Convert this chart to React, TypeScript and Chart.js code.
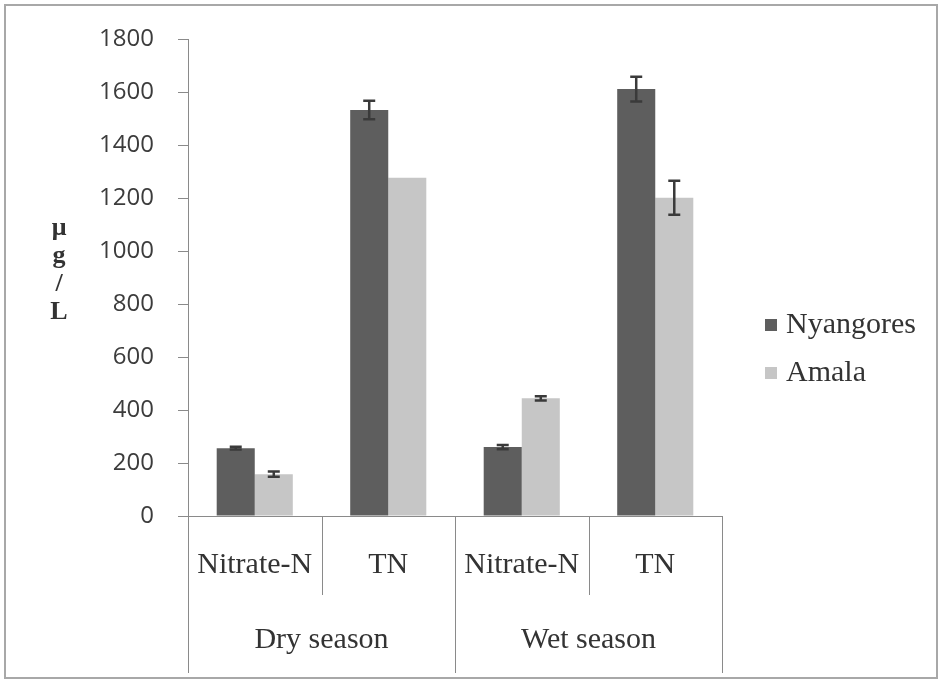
import React, { useEffect, useRef } from "react";
import { Chart, registerables } from "chart.js";

Chart.register(...registerables);

const seasons = ["Dry season", "Wet season"];
const parameters = ["Nitrate-N", "TN", "Nitrate-N", "TN"];
const seriesNames = ["Nyangores", "Amala"];
const nyangores = [256, 1532, 260, 1611];
const nyangoresErr = [5, 35, 8, 47];
const amala = [158, 1276, 444, 1201];
const amalaErr = [10, 0, 8, 64];
const yTitleChars = ["μ", "g", "/", "L"];
const yMin = 0;
const yMax = 1800;
const yStep = 200;

const colors = ["#5e5e5e", "#c6c6c6"];
const errs = [nyangoresErr, amalaErr];

const overlay = {
  id: "overlay",
  afterDraw(chart: any) {
    const ctx = chart.ctx as CanvasRenderingContext2D;
    const area = chart.chartArea;
    const xs = chart.scales.x;
    const ys = chart.scales.y;
    ctx.save();

    // outer frame
    ctx.strokeStyle = "#a8a8a8";
    ctx.lineWidth = 2;
    ctx.strokeRect(5, 5, 932, 673);

    // error bars
    ctx.strokeStyle = "#3a3a3a";
    ctx.lineWidth = 2.5;
    chart.data.datasets.forEach((ds: any, di: number) => {
      const meta = chart.getDatasetMeta(di);
      meta.data.forEach((el: any, i: number) => {
        const e = errs[di][i];
        if (!e) return;
        const v = ds.data[i];
        const yt = ys.getPixelForValue(v + e);
        const yb = ys.getPixelForValue(v - e);
        const x = el.x;
        ctx.beginPath();
        ctx.moveTo(x, yt);
        ctx.lineTo(x, yb);
        ctx.moveTo(x - 6, yt);
        ctx.lineTo(x + 6, yt);
        ctx.moveTo(x - 6, yb);
        ctx.lineTo(x + 6, yb);
        ctx.stroke();
      });
    });

    // x baseline and category separators
    const n = parameters.length;
    const half = (xs.getPixelForValue(1) - xs.getPixelForValue(0)) / 2;
    const bounds: number[] = [];
    for (let i = 0; i <= n; i++) {
      bounds.push(i < n ? xs.getPixelForValue(i) - half : xs.getPixelForValue(n - 1) + half);
    }
    ctx.strokeStyle = "#8a8a8a";
    ctx.lineWidth = 1;
    ctx.beginPath();
    ctx.moveTo(area.left, area.bottom + 0.5);
    ctx.lineTo(area.right, area.bottom + 0.5);
    bounds.forEach((b, i) => {
      const bx = Math.round(b) + 0.5;
      ctx.moveTo(bx, area.bottom);
      ctx.lineTo(bx, i % 2 === 0 ? 673 : 595);
    });
    ctx.stroke();

    // category labels
    ctx.fillStyle = "#333333";
    ctx.font = "30px 'Liberation Serif', 'Times New Roman', serif";
    ctx.textAlign = "center";
    ctx.textBaseline = "middle";
    parameters.forEach((p, i) => {
      ctx.fillText(p, xs.getPixelForValue(i), 565);
    });
    seasons.forEach((s, si) => {
      const cx = (bounds[si * 2] + bounds[si * 2 + 2]) / 2;
      ctx.fillText(s, cx, 640);
    });

    // y axis title (stacked)
    ctx.font = "bold 26px 'Liberation Serif', 'Times New Roman', serif";
    yTitleChars.forEach((c, i) => {
      ctx.fillText(c, 59, 228 + i * 28);
    });

    // legend
    ctx.font = "30px 'Liberation Serif', 'Times New Roman', serif";
    ctx.textAlign = "left";
    seriesNames.forEach((name, i) => {
      const cy = 325 + i * 48;
      ctx.fillStyle = colors[i];
      ctx.fillRect(765, cy - 6, 12, 12);
      ctx.fillStyle = "#333333";
      ctx.fillText(name, 786, cy);
    });

    ctx.restore();
  },
};

export default function App() {
  const ref = useRef<HTMLCanvasElement | null>(null);
  useEffect(() => {
    if (!ref.current) return;
    const chart = new Chart(ref.current, {
      type: "bar",
      data: {
        labels: parameters,
        datasets: [
          { label: seriesNames[0], data: nyangores, backgroundColor: colors[0], borderWidth: 0 },
          { label: seriesNames[1], data: amala, backgroundColor: colors[1], borderWidth: 0 },
        ],
      },
      options: {
        responsive: false,
        animation: false,
        events: [],
        layout: { padding: { left: 0, top: 39, right: 220, bottom: 167 } },
        datasets: { bar: { categoryPercentage: 0.57, barPercentage: 1 } },
        plugins: { legend: { display: false }, tooltip: { enabled: false } },
        scales: {
          x: { display: false },
          y: {
            min: yMin,
            max: yMax,
            afterFit: (s: any) => {
              s.width = 188;
            },
            ticks: {
              stepSize: yStep,
              padding: 24,
              color: "#3c3c3c",
              font: { family: "'Open Sans', sans-serif", size: 24 },
              callback: (v: any) => String(v),
            },
            grid: { drawOnChartArea: false, drawTicks: true, tickLength: 10, color: "#8a8a8a" },
            border: { display: true, color: "#8a8a8a", width: 1 },
          },
        },
      },
      plugins: [overlay],
    });
    return () => chart.destroy();
  }, []);
  return (
    <div style={{ position: "absolute", left: 0, top: 0, width: 942, height: 683, background: "#fff" }}>
      <canvas ref={ref} width={942} height={683} style={{ display: "block" }} />
    </div>
  );
}
